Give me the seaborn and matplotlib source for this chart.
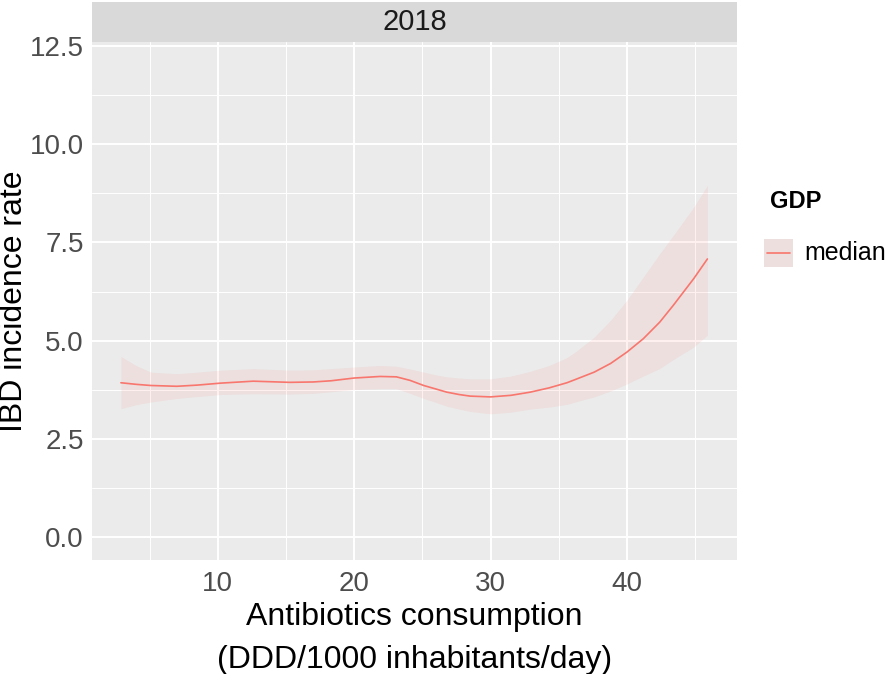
import matplotlib
matplotlib.use("Agg")
import matplotlib.pyplot as plt
import seaborn as sns
import numpy as np
import pandas as pd
from matplotlib.patches import Rectangle
from matplotlib.lines import Line2D

# smoothed fit (x = antibiotics consumption)
consumption = [2.9, 4.0, 5.1, 7.0, 8.5, 10.2, 12.6, 15.3, 17.0, 18.3, 20.0,
               21.9, 23.1, 24.1, 25.1, 26.0, 26.8, 27.7, 28.5, 30.0, 31.5,
               32.9, 34.3, 35.6, 36.2, 37.6, 38.8, 40.0, 41.2, 42.4, 43.4,
               44.9, 45.9]
fit = [3.93, 3.89, 3.86, 3.84, 3.87, 3.92, 3.97, 3.94, 3.95, 3.98, 4.05,
       4.09, 4.08, 3.99, 3.86, 3.77, 3.69, 3.63, 3.59, 3.57, 3.61,
       3.69, 3.80, 3.93, 4.01, 4.20, 4.42, 4.71, 5.05, 5.47, 5.90,
       6.58, 7.08]
upper = [4.60, 4.37, 4.20, 4.16, 4.20, 4.25, 4.29, 4.25, 4.26, 4.29, 4.33,
         4.37, 4.35, 4.28, 4.20, 4.13, 4.08, 4.05, 4.03, 4.03, 4.10,
         4.22, 4.37, 4.57, 4.71, 5.09, 5.52, 6.03, 6.62, 7.21, 7.68,
         8.40, 8.95]
lower = [3.27, 3.37, 3.44, 3.53, 3.58, 3.63, 3.65, 3.64, 3.66, 3.70, 3.76,
         3.78, 3.78, 3.66, 3.53, 3.43, 3.33, 3.26, 3.20, 3.14, 3.18,
         3.26, 3.31, 3.38, 3.44, 3.57, 3.72, 3.90, 4.10, 4.29, 4.52,
         4.84, 5.14]
gdp_group = "median"
year = "2018"

x_ticks = [10, 20, 30, 40]
y_ticks = [0.0, 2.5, 5.0, 7.5, 10.0, 12.5]

line_col = "#F8766D"
panel_bg = "#EBEBEB"

sns.set_theme(style="white")
plt.rcParams["font.family"] = ["Liberation Sans", "DejaVu Sans"]

W, H = 886, 674
fig = plt.figure(figsize=(W / 100, H / 100), dpi=100)

# panel position in pixels
px0, px1, py0, py1 = 92, 737, 42, 560
ax = fig.add_axes([px0 / W, 1 - py1 / H, (px1 - px0) / W, (py1 - py0) / H])
ax.set_facecolor(panel_bg)

df = pd.DataFrame({"x": consumption, "fit": fit, "lo": lower, "hi": upper,
                   "GDP": gdp_group})

ax.fill_between(df["x"], df["lo"], df["hi"], color=line_col, alpha=0.1,
                linewidth=0, zorder=2)
sns.lineplot(data=df, x="x", y="fit", hue="GDP", palette={gdp_group: line_col},
             linewidth=1.2, legend=False, ax=ax, zorder=3)

ax.set_xlim(0.78, 48.07)
ax.set_ylim(-0.58, 12.6)
ax.set_xticks(x_ticks)
ax.set_yticks(y_ticks)
ax.set_xticks([5, 15, 25, 35, 45], minor=True)
ax.set_yticks([1.25, 3.75, 6.25, 8.75, 11.25], minor=True)
ax.set_yticklabels([f"{v:.1f}" for v in y_ticks])
ax.grid(True, which="major", color="white", linewidth=1.4, zorder=1)
ax.grid(True, which="minor", color="white", linewidth=0.7, zorder=1)
ax.set_axisbelow(True)
for s in ax.spines.values():
    s.set_visible(False)
ax.tick_params(axis="both", which="major", length=3, width=0.8, color="#333333",
               labelsize=20, labelcolor="#4D4D4D", pad=3)
ax.tick_params(axis="both", which="minor", length=0)
ax.tick_params(axis="x", pad=5)
ax.set_xlabel("")
ax.set_ylabel("")

# facet strip
sax = fig.add_axes([px0 / W, 1 - py0 / H, (px1 - px0) / W, 40 / H])
sax.set_facecolor("#D9D9D9")
sax.set_xticks([])
sax.set_yticks([])
for s in sax.spines.values():
    s.set_visible(False)
sax.text(0.5, 0.5, year, ha="center", va="center", fontsize=21, color="#1A1A1A",
         transform=sax.transAxes)

# axis titles
cx = (px0 + px1) / 2 / W
fig.text(cx, 1 - 625 / H, "Antibiotics consumption", ha="center",
         va="baseline", fontsize=23, color="black")
fig.text(cx, 1 - 668 / H, "(DDD/1000 inhabitants/day)", ha="center",
         va="baseline", fontsize=23, color="black")
fig.text(14 / W, 1 - (py0 + py1) / 2 / H, "IBD incidence rate", ha="center",
         va="center", rotation=90, fontsize=23, color="black")

# legend
fig.text(770 / W, 1 - 208 / H, "GDP", ha="left", va="baseline", fontsize=17,
         fontweight="bold", color="black")
fig.patches.append(Rectangle((764 / W, 1 - 267 / H), 29 / W, 28 / H,
                             transform=fig.transFigure, facecolor=panel_bg,
                             edgecolor="none"))
fig.patches.append(Rectangle((764 / W, 1 - 267 / H), 29 / W, 28 / H,
                             transform=fig.transFigure, facecolor=line_col,
                             alpha=0.1, edgecolor="none"))
fig.lines.append(Line2D([767 / W, 790 / W], [1 - 253 / H, 1 - 253 / H],
                        transform=fig.transFigure, color=line_col, linewidth=1.2))
fig.text(804 / W, 1 - 260 / H, gdp_group, ha="left", va="baseline", fontsize=18,
         color="black")

fig.savefig("out.png", dpi=100)
